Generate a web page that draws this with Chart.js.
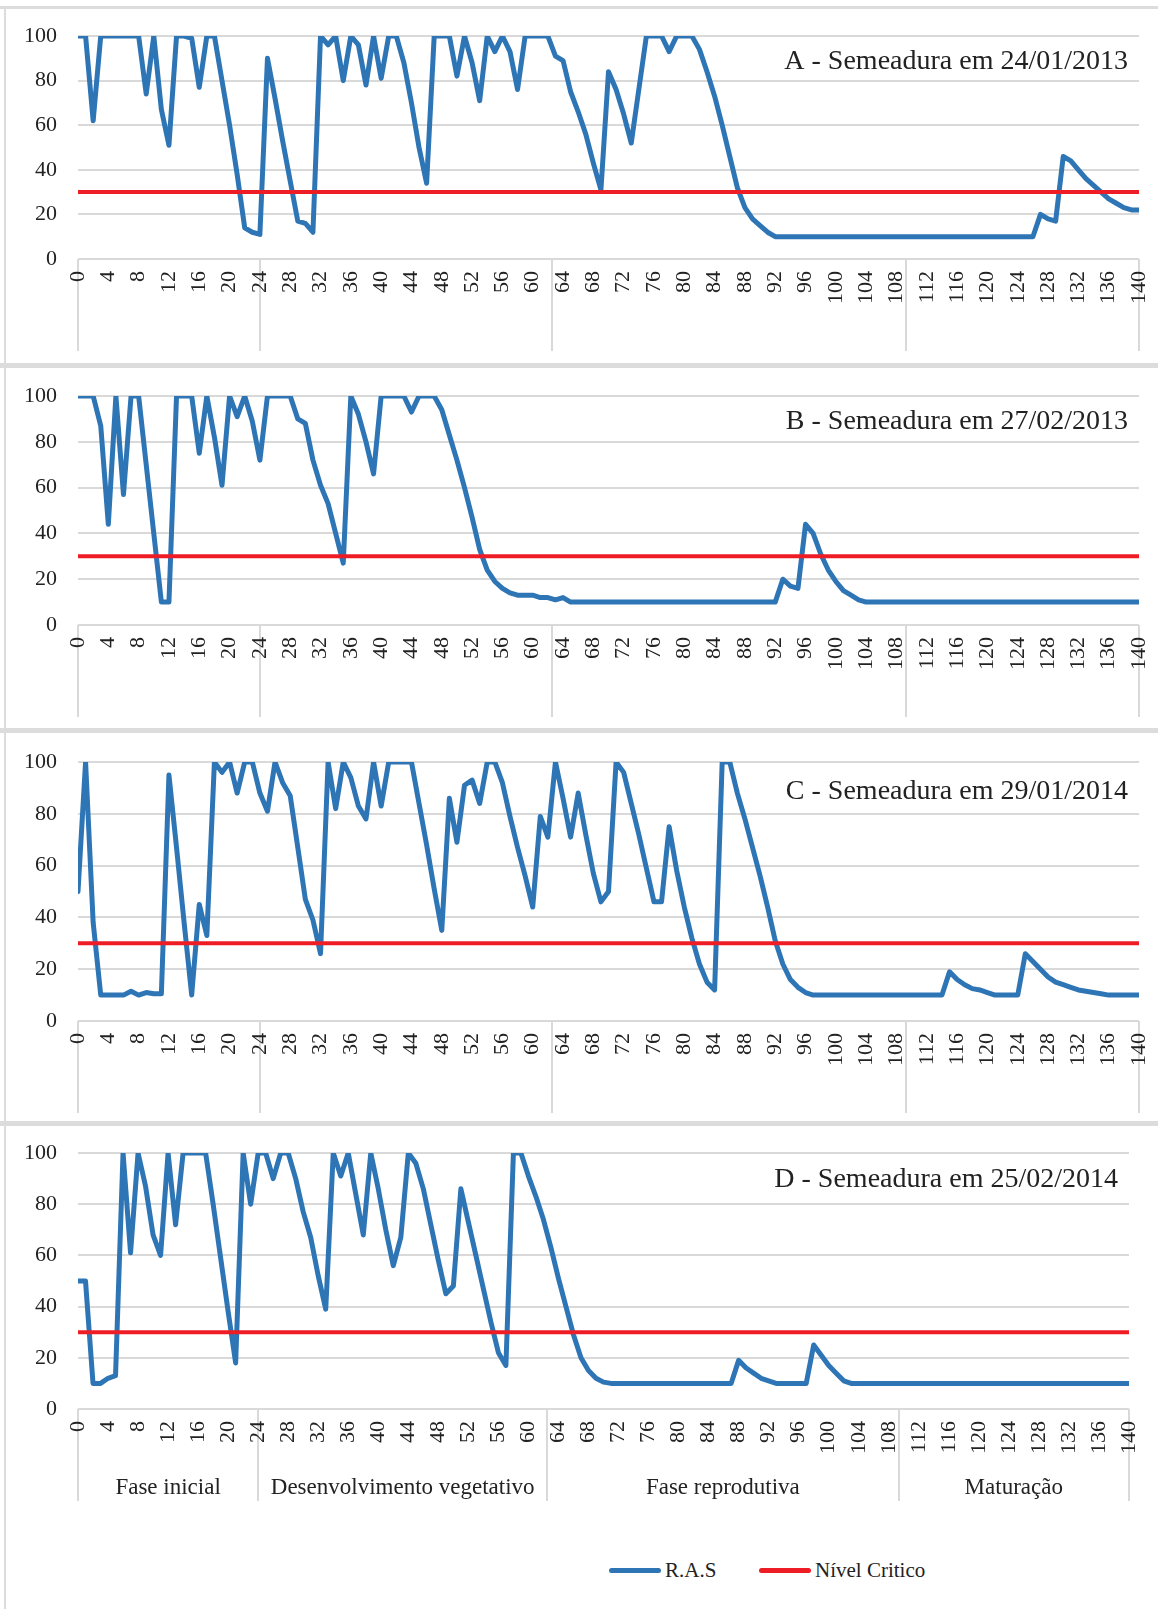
<!DOCTYPE html>
<html>
<head>
<meta charset="utf-8">
<script src="https://cdn.jsdelivr.net/npm/chart.js"></script>
<style>
  body { margin: 0; background: #fff; width: 1158px; height: 1609px; overflow: hidden; position: relative; font-family: "Liberation Serif", "Times New Roman", serif; }
  canvas { position: absolute; left: 7px; }
  .sep { position: absolute; left: 0; width: 1158px; background: #dcdcdc; }
  .borda { position: absolute; left: 4px; top: 6px; width: 2px; height: 1603px; background: #dcdcdc; }
  .linha { position: absolute; width: 52px; height: 5px; border-radius: 3px; }
  .txt { position: absolute; font-size: 21px; line-height: 24px; color: #222; white-space: nowrap; }
</style>
</head>
<body>
<div class="borda"></div>
<div class="sep" style="top:6px;height:3px"></div>
<div class="sep" style="top:363px;height:5px"></div>
<div class="sep" style="top:728px;height:5px"></div>
<div class="sep" style="top:1121px;height:5px"></div>

<div class="linha" style="left:609px;top:1568px;background:#2e75b6"></div>
<div class="txt" style="left:665px;top:1558px">R.A.S</div>
<div class="linha" style="left:759px;top:1568px;background:#ee1c25"></div>
<div class="txt" style="left:815px;top:1558px">Nível Critico</div>

<script>
// dias apos a semeadura
const dias = Array.from({ length: 141 }, (_, i) => i);

// R.A.S (%) por epoca de semeadura
const rasA = [
  100, 100, 62, 100, 100, 100, 100, 100, 100, 74,
  100, 67, 51, 100, 100, 99, 77, 100, 100, 80,
  60, 38, 14, 12, 11, 90, 72, 53, 35, 17,
  16, 12, 100, 96, 100, 80, 100, 96, 78, 100,
  81, 100, 100, 88, 70, 50, 34, 100, 100, 100,
  82, 100, 88, 71, 100, 93, 100, 93, 76, 100,
  100, 100, 100, 91, 89, 75, 66, 56, 43, 31,
  84, 76, 65, 52, 76, 100, 100, 100, 93, 100,
  100, 100, 94, 84, 73, 60, 46, 32, 23, 18,
  15, 12, 10, 10, 10, 10, 10, 10, 10, 10,
  10, 10, 10, 10, 10, 10, 10, 10, 10, 10,
  10, 10, 10, 10, 10, 10, 10, 10, 10, 10,
  10, 10, 10, 10, 10, 10, 10, 20, 18, 17,
  46, 44, 40, 36, 33, 30, 27, 25, 23, 22,
  22
];
const rasB = [
  100, 100, 100, 87, 44, 100, 57, 100, 100, 70,
  40, 10, 10, 100, 100, 100, 75, 100, 82, 61,
  100, 91, 100, 89, 72, 100, 100, 100, 100, 90,
  88, 72, 61, 53, 40, 27, 100, 92, 80, 66,
  100, 100, 100, 100, 93, 100, 100, 100, 94, 83,
  72, 60, 47, 33, 24, 19, 16, 14, 13, 13,
  13, 12, 12, 11, 12, 10, 10, 10, 10, 10,
  10, 10, 10, 10, 10, 10, 10, 10, 10, 10,
  10, 10, 10, 10, 10, 10, 10, 10, 10, 10,
  10, 10, 10, 20, 17, 16, 44, 40, 31, 24,
  19, 15, 13, 11, 10, 10, 10, 10, 10, 10,
  10, 10, 10, 10, 10, 10, 10, 10, 10, 10,
  10, 10, 10, 10, 10, 10, 10, 10, 10, 10,
  10, 10, 10, 10, 10, 10, 10, 10, 10, 10,
  10
];
const rasC = [
  50, 100, 38, 10, 10, 10, 10, 11.5, 10, 11,
  10.5, 10.5, 95, 67, 38, 10, 45, 33, 100, 96,
  100, 88, 100, 100, 88, 81, 100, 92, 87, 67,
  47, 39, 26, 100, 82, 100, 94, 83, 78, 100,
  83, 100, 100, 100, 100, 84, 68, 51, 35, 86,
  69, 91, 93, 84, 100, 100, 92, 79, 67, 56,
  44, 79, 71, 100, 86, 71, 88, 72, 57, 46,
  50, 100, 96, 84, 72, 59, 46, 46, 75, 58,
  44, 32, 22, 15, 12, 100, 100, 88, 78, 67,
  56, 44, 31, 22, 16, 13, 11, 10, 10, 10,
  10, 10, 10, 10, 10, 10, 10, 10, 10, 10,
  10, 10, 10, 10, 10, 19, 16, 14, 12.5, 12,
  11, 10, 10, 10, 10, 26, 23, 20, 17, 15,
  14, 13, 12, 11.5, 11, 10.5, 10, 10, 10, 10,
  10
];
const rasD = [
  50, 50, 10, 10, 12, 13, 100, 61, 100, 87,
  68, 60, 100, 72, 100, 100, 100, 100, 80, 59,
  38, 18, 100, 80, 100, 100, 90, 100, 100, 90,
  77, 67, 52, 39, 100, 91, 100, 84, 68, 100,
  86, 70, 56, 67, 100, 96, 86, 72, 58, 45,
  48, 86, 73, 60, 47, 34, 22, 17, 100, 100,
  91, 83, 74, 63, 51, 40, 29, 20, 15, 12,
  10.5, 10, 10, 10, 10, 10, 10, 10, 10, 10,
  10, 10, 10, 10, 10, 10, 10, 10, 19, 16,
  14, 12, 11, 10, 10, 10, 10, 10, 25, 21,
  17, 14, 11, 10, 10, 10, 10, 10, 10, 10,
  10, 10, 10, 10, 10, 10, 10, 10, 10, 10,
  10, 10, 10, 10, 10, 10, 10, 10, 10, 10,
  10, 10, 10, 10, 10, 10, 10, 10, 10, 10,
  10
];

const nivelCritico = 30;

const fases = ['Fase inicial', 'Desenvolvimento vegetativo', 'Fase reprodutiva', 'Maturação'];
const limitesFases = [0, 24, 62.5, 109.3, 140]; // dias

const azul = '#2e75b6';
const vermelho = '#ee1c25';
const cinza = '#d9d9d9';
const serif = '"Liberation Serif", "Times New Roman", serif';

// linhas das fases (por baixo dos rotulos), nomes das fases e titulo
const fasesPlugin = {
  id: 'fases',
  beforeDraw(chart) {
    const { ctx, chartArea } = chart;
    const x = chart.scales.x;
    ctx.save();
    ctx.strokeStyle = cinza;
    ctx.lineWidth = 2;
    limitesFases.forEach(v => {
      const px = Math.round(x.getPixelForValue(v));
      ctx.beginPath();
      ctx.moveTo(px, chartArea.bottom);
      ctx.lineTo(px, chartArea.bottom + 92);
      ctx.stroke();
    });
    ctx.restore();
  },
  afterDraw(chart, args, opts) {
    const { ctx, chartArea } = chart;
    const x = chart.scales.x;
    ctx.save();
    ctx.fillStyle = '#222';
    if (opts.rotulos) {
      ctx.font = '23px ' + serif;
      ctx.textAlign = 'center';
      ctx.textBaseline = 'middle';
      fases.forEach((f, i) => {
        const cx = (x.getPixelForValue(limitesFases[i]) + x.getPixelForValue(limitesFases[i + 1])) / 2;
        ctx.fillText(f, cx, chartArea.bottom + 79);
      });
    }
    ctx.font = '28px ' + serif;
    ctx.textAlign = 'right';
    ctx.textBaseline = 'alphabetic';
    ctx.fillText(opts.titulo, chartArea.right - 11, chartArea.top + opts.tituloY);
    ctx.restore();
  }
};

// area do grafico desejada (px dentro de cada canvas)
const largura = 1190;
const paineis = [
  { titulo: 'A - Semeadura em 24/01/2013', serie: rasA, top: 9, altura: 354, topo: 27, baixo: 104, direita: 1132, tituloY: 33, rotulos: false },
  { titulo: 'B - Semeadura em 27/02/2013', serie: rasB, top: 368, altura: 360, topo: 28, baixo: 103, direita: 1132, tituloY: 33, rotulos: false },
  { titulo: 'C - Semeadura em 29/01/2014', serie: rasC, top: 733, altura: 388, topo: 29, baixo: 100, direita: 1132, tituloY: 37, rotulos: false },
  { titulo: 'D - Semeadura em 25/02/2014', serie: rasD, top: 1126, altura: 483, topo: 27, baixo: 200, direita: 1122, tituloY: 34, rotulos: true }
];

function desenhar() {
  paineis.forEach(p => {
    const canvas = document.createElement('canvas');
    canvas.width = largura;
    canvas.height = p.altura;
    canvas.style.top = p.top + 'px';
    document.body.appendChild(canvas);

    const chart = new Chart(canvas.getContext('2d'), {
      type: 'line',
      data: {
        datasets: [
          {
            label: 'R.A.S',
            data: dias.map((d, i) => ({ x: d, y: p.serie[i] })),
            borderColor: azul,
            backgroundColor: azul,
            borderWidth: 5,
            borderJoinStyle: 'round',
            borderCapStyle: 'round',
            pointRadius: 0,
            tension: 0,
            order: 2
          },
          {
            label: 'Nível Critico',
            data: dias.map(d => ({ x: d, y: nivelCritico })),
            borderColor: vermelho,
            backgroundColor: vermelho,
            borderWidth: 4,
            borderCapStyle: 'round',
            pointRadius: 0,
            order: 1
          }
        ]
      },
      options: {
        responsive: false,
        animation: false,
        devicePixelRatio: 1,
        layout: { autoPadding: false, padding: { top: p.topo, right: largura - p.direita, bottom: 0, left: 0 } },
        plugins: {
          legend: { display: false },
          tooltip: { enabled: false },
          fases: { titulo: p.titulo, tituloY: p.tituloY, rotulos: p.rotulos }
        },
        scales: {
          x: {
            type: 'linear',
            min: 0,
            max: 140,
            grid: { display: false, drawTicks: false },
            border: { display: false },
            ticks: {
              stepSize: 4,
              autoSkip: false,
              minRotation: 90,
              maxRotation: 90,
              padding: 12,
              color: '#222',
              font: { family: serif, size: 22 }
            },
            afterFit: s => { s.height = p.baixo; }
          },
          y: {
            min: 0,
            max: 100,
            // marcas invisiveis so para afastar os rotulos do eixo
            grid: { color: cinza, lineWidth: 2, drawTicks: true, tickLength: 21, tickColor: 'rgba(0,0,0,0)' },
            border: { display: false },
            ticks: { stepSize: 20, padding: 0, color: '#222', font: { family: serif, size: 22 } },
            afterFit: s => { s.width = 71; }
          }
        }
      },
      plugins: [fasesPlugin]
    });

    // corrige o deslocamento da area do grafico
    const ca = chart.chartArea;
    const pad = chart.options.layout.padding;
    pad.top += p.topo - ca.top;
    pad.right += ca.right - p.direita;
    chart.update();
  });
}

document.fonts.load('22px "Liberation Serif"').then(desenhar, desenhar);
</script>
</body>
</html>
